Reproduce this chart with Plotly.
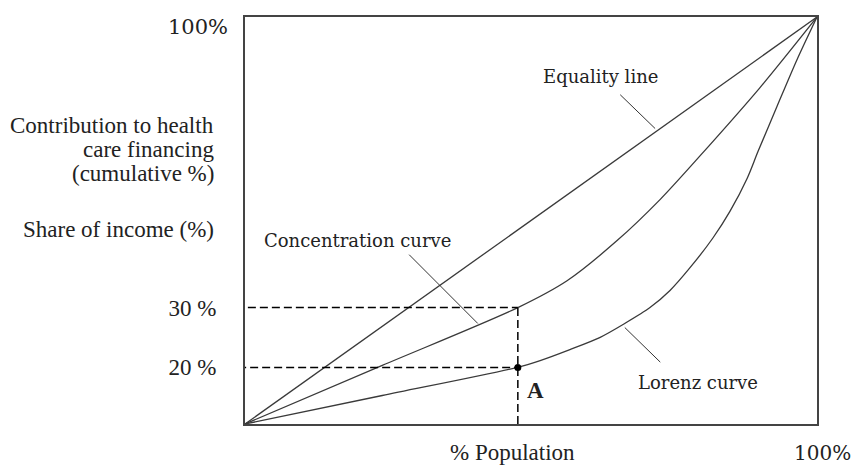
import plotly.graph_objects as go

# ---- data (percent of population vs cumulative percent) ----
eq_x = [0, 100]
eq_y = [0, 100]

conc_x = [0, 24.0, 47.7, 56.3, 65.0, 72.6, 79.5, 90.0, 100]
conc_y = [0, 14.4, 28.6, 35.2, 45.0, 55.2, 65.8, 82.6, 100]

lor_x = [0, 24.0, 47.6, 51.6, 56.8, 62.1, 66.4, 70.8, 74.3, 77.8, 81.8, 84.8, 87.8, 89.7, 93.0, 96.5, 100]
lor_y = [0, 7.0, 13.9, 15.6, 18.3, 21.3, 24.7, 28.6, 32.8, 38.4, 45.7, 52.3, 60.4, 67.0, 78.0, 89.5, 100]

point_a_x = 47.7
point_a_y = 13.9          # Lorenz value at A
conc_at_a = 28.6          # concentration value at A
y_tick_vals = [point_a_y, conc_at_a]
y_tick_text = ["20 %", "30 %"]

curve_color = "#3a3a3a"
serif_a = "DejaVu Serif"
serif_b = "Liberation Serif, Times New Roman, serif"

fig = go.Figure()
for xs, ys in [(eq_x, eq_y), (conc_x, conc_y), (lor_x, lor_y)]:
    fig.add_trace(go.Scatter(x=xs, y=ys, mode="lines",
                             line=dict(color=curve_color, width=1.3, shape="spline", smoothing=0.8),
                             hoverinfo="skip", showlegend=False))

fig.add_trace(go.Scatter(x=[point_a_x], y=[point_a_y], mode="markers",
                         marker=dict(color="black", size=7), showlegend=False, cliponaxis=False))

dash = dict(color="black", width=1.5, dash="8px,4px")
leader = dict(color="#333", width=1)
shapes = [
    dict(type="line", xref="x", yref="y", x0=0.5, x1=point_a_x, y0=conc_at_a, y1=conc_at_a, line=dash),
    dict(type="line", xref="x", yref="y", x0=-1.2, x1=point_a_x, y0=point_a_y, y1=point_a_y, line=dash),
    dict(type="line", xref="x", yref="y", x0=point_a_x, x1=point_a_x, y0=0, y1=conc_at_a, line=dash),
    # leader lines
    dict(type="line", xref="x", yref="y", x0=65.6, y0=80.9, x1=71.7, y1=72.6, line=leader),
    dict(type="line", xref="x", yref="y", x0=28.7, y0=41.6, x1=40.7, y1=24.7, line=leader),
    dict(type="line", xref="x", yref="y", x0=66.4, y0=23.7, x1=72.6, y1=15.2, line=leader),
]

def ann(text, x, y, font, size, xanchor="center", bold=False):
    # positions given in percent of the plotting area (paper coordinates * 100)
    return dict(text=("<b>%s</b>" % text) if bold else text, x=x / 100, y=y / 100,
                xref="paper", yref="paper",
                showarrow=False, xanchor=xanchor, yanchor="middle",
                font=dict(family=font, size=size, color="#222"))

annotations = [
    ann("Equality line", 51.8, 85.3, serif_a, 18, "left"),
    ann("Concentration curve", 2.97, 45.2, serif_a, 18, "left"),
    ann("Lorenz curve", 68.4, 10.3, serif_a, 18, "left"),
    ann("100%", -2.6, 97.6, serif_a, 21, "right"),
    ann("100%", 101.0, -7.2, serif_a, 20, "center"),
    ann("Contribution to health", -5.0, 73.3, serif_b, 23, "right"),
    ann("care financing", -5.0, 67.5, serif_b, 23, "right"),
    ann("(cumulative %)", -5.0, 61.6, serif_b, 23, "right"),
    ann("Share of income (%)", -5.0, 47.9, serif_b, 23, "right"),
    ann("% Population", 46.7, -6.9, serif_b, 23, "center"),
    ann("A", 49.0, 8.3, serif_b, 23, "left", bold=True),
]

fig.update_layout(
    width=851, height=460,
    margin=dict(l=237, r=42, t=7, b=44, pad=0),
    paper_bgcolor="white", plot_bgcolor="white",
    shapes=shapes, annotations=annotations,
    xaxis=dict(range=[0, 100], showgrid=False, zeroline=False, showline=True, mirror=True,
               linecolor="#444", linewidth=2, showticklabels=False, ticks=""),
    yaxis=dict(range=[0, 100], showgrid=False, zeroline=False, showline=True, mirror=True,
               linecolor="#444", linewidth=2, ticks="", tickvals=y_tick_vals, ticktext=y_tick_text,
               ticklabelstandoff=22,
               tickfont=dict(family=serif_b, size=23, color="#222")),
)

fig.write_html("out.html")
